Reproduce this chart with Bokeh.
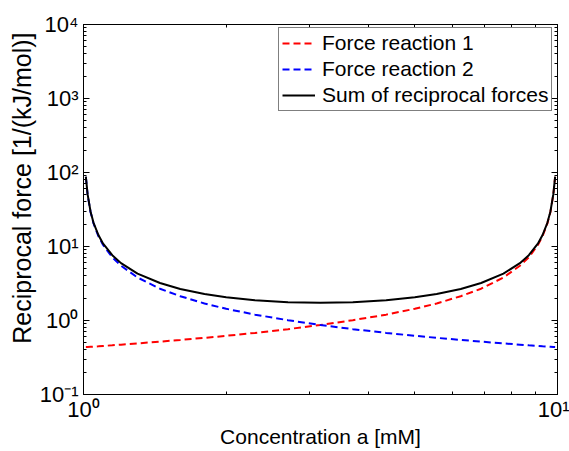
from bokeh.plotting import figure
from bokeh.models import FixedTicker, LogAxis, Legend, LegendItem, Range1d, Title
from bokeh.embed import file_html
from bokeh.resources import INLINE

# ---- data ----
conc = [1.0115, 1.02, 1.035, 1.05, 1.075, 1.1, 1.15, 1.2, 1.3, 1.45, 1.6, 1.8, 2.0, 2.3, 2.7,
        3.16, 3.7, 4.35, 5.0, 5.56, 6.25, 6.9, 7.69, 8.33, 8.7, 9.09, 9.3, 9.52, 9.66, 9.8, 9.886]
force1 = [0.437, 0.438, 0.441, 0.444, 0.448, 0.453, 0.462, 0.472, 0.490, 0.518, 0.546, 0.583,
          0.621, 0.680, 0.764, 0.869, 1.01, 1.20, 1.44, 1.70, 2.13, 2.69, 3.81, 5.49, 7.16,
          10.5, 13.8, 20.5, 29.1, 50.5, 87.5]
force2 = [87.5, 50.5, 29.1, 20.5, 13.8, 10.5, 7.16, 5.49, 3.81, 2.69, 2.13, 1.70, 1.44, 1.20,
          1.01, 0.869, 0.764, 0.680, 0.621, 0.583, 0.546, 0.518, 0.490, 0.472, 0.462, 0.453,
          0.448, 0.444, 0.441, 0.438, 0.437]
force_sum = [87.9, 50.9, 29.5, 20.9, 14.3, 10.9, 7.62, 5.96, 4.30, 3.21, 2.67, 2.28, 2.06, 1.88,
             1.77, 1.74, 1.77, 1.88, 2.06, 2.28, 2.67, 3.21, 4.30, 5.96, 7.62, 10.9, 14.3, 20.9,
             29.5, 50.9, 87.9]

series_labels = ["Force reaction 1", "Force reaction 2", "Sum of reciprocal forces"]
x_title = "Concentration a [mM]"
y_title = "Reciprocal force [1/(kJ/mol)]"
x_ticks = [1, 10]
x_tick_labels = {1: "10\u2070", 10: "10\u00b9"}
y_ticks = [0.1, 1, 10, 100, 1000, 10000]
y_tick_labels = {0.1: "10\u207b\u00b9", 1: "10\u2070", 10: "10\u00b9", 100: "10\u00b2",
                 1000: "10\u00b3", 10000: "10\u2074"}
x_minor = [2, 3, 4, 5, 6, 7, 8, 9]
y_minor = [m * d for d in (0.1, 1, 10, 100, 1000) for m in range(2, 10)]

FONT = "Liberation Sans"
FS = "21px"
TICK_FS = "22px"

p = figure(width=569, height=451, frame_width=474, frame_height=370,
           x_axis_type="log", y_axis_type="log",
           x_range=Range1d(1, 10), y_range=Range1d(0.1, 10000),
           output_backend="svg", toolbar_location=None,
           min_border_left=83, min_border_right=12, min_border_top=24, min_border_bottom=57,
           x_axis_label=x_title)
p.xgrid.visible = False
p.ygrid.visible = False
p.outline_line_color = "black"
p.background_fill_color = "white"
p.border_fill_color = "white"


def style(ax, labels):
    ax.major_tick_in = 6
    ax.major_tick_out = 0
    ax.minor_tick_in = 3
    ax.minor_tick_out = 0
    ax.axis_line_color = "black"
    ax.major_tick_line_color = "black"
    ax.minor_tick_line_color = "black"
    ax.major_label_text_font = FONT
    ax.major_label_text_font_size = TICK_FS
    ax.major_label_text_color = "black"
    ax.axis_label_text_font = FONT
    ax.axis_label_text_font_size = FS
    ax.axis_label_text_font_style = "normal"
    ax.axis_label_text_color = "black"
    ax.major_label_overrides = labels


p.xaxis.ticker = FixedTicker(ticks=x_ticks, minor_ticks=x_minor)
p.yaxis.ticker = FixedTicker(ticks=y_ticks, minor_ticks=y_minor)
style(p.xaxis[0], x_tick_labels)
style(p.yaxis[0], y_tick_labels)
p.xaxis.major_label_standoff = 2
p.xaxis.axis_label_standoff = 0
p.yaxis.major_label_standoff = 5

top = LogAxis(ticker=FixedTicker(ticks=x_ticks, minor_ticks=x_minor))
style(top, {k: "" for k in x_ticks})
top.major_label_standoff = 0
top.major_label_text_font_size = "0px"
right = LogAxis(ticker=FixedTicker(ticks=y_ticks, minor_ticks=y_minor))
style(right, {k: "" for k in y_ticks})
right.major_label_standoff = 0
right.major_label_text_font_size = "0px"
p.add_layout(top, "above")
p.add_layout(right, "right")

# y-axis title, placed as in the reference (slightly above the frame's centre)
ytitle = Title(text=y_title, align="right", offset=8, standoff=2,
               text_font=FONT, text_font_size="25px", text_font_style="normal",
               text_color="black")
p.add_layout(ytitle, "left")

r1 = p.line(conc, force1, line_color="#ff0000", line_width=2, line_dash="7 4")
r2 = p.line(conc, force2, line_color="#0000ff", line_width=2, line_dash="7 4")
r3 = p.line(conc, force_sum, line_color="black", line_width=2)

legend = Legend(items=[LegendItem(label=series_labels[0], renderers=[r1]),
                       LegendItem(label=series_labels[1], renderers=[r2]),
                       LegendItem(label=series_labels[2], renderers=[r3])],
                location=(195, 283))
legend.label_text_font = FONT
legend.label_text_font_size = FS
legend.label_text_color = "black"
legend.border_line_color = "black"
legend.border_line_width = 1
legend.background_fill_alpha = 1
legend.padding = 3
legend.spacing = 2
legend.margin = 0
legend.glyph_width = 33
legend.glyph_height = 24
legend.label_height = 24
legend.label_standoff = 7
p.add_layout(legend)

open("out.html", "w").write(file_html(p, INLINE))
